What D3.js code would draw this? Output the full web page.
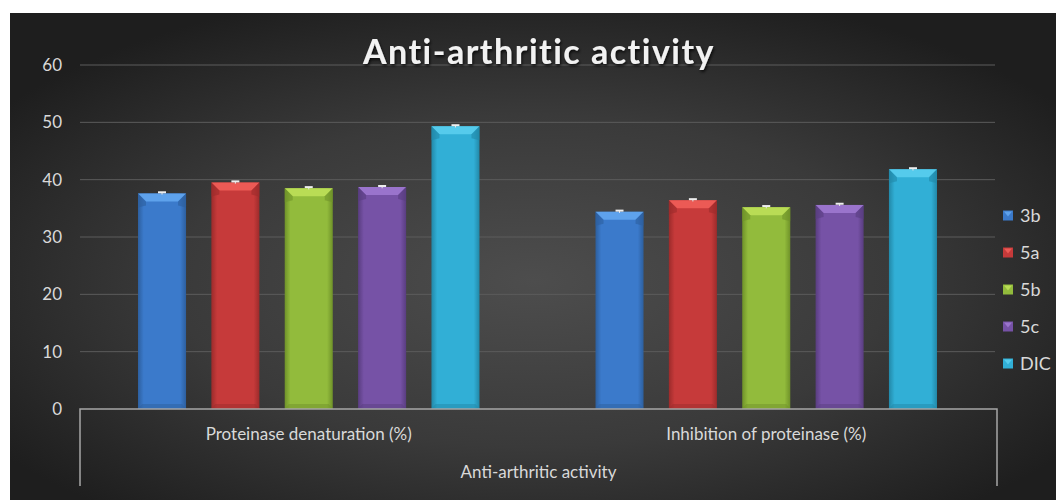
<!DOCTYPE html>
<html>
<head>
<meta charset="utf-8">
<script src="https://cdn.jsdelivr.net/npm/d3@7"></script>
<style>
  body { margin: 0; background: #fff; }
  svg { display: block; }
  text { font-family: Lato, "Open Sans", sans-serif; }
</style>
</head>
<body>
<div id="chart"></div>
<script>
const categories = ["Proteinase denaturation (%)", "Inhibition of proteinase (%)"];
const series = ["3b", "5a", "5b", "5c", "DIC"];
const values = {
  "3b":  [37.6, 34.4],
  "5a":  [39.5, 36.4],
  "5b":  [38.5, 35.2],
  "5c":  [38.7, 35.6],
  "DIC": [49.3, 41.8]
};
const errors = {
  "3b":  [0.2, 0.2],
  "5a":  [0.2, 0.2],
  "5b":  [0.2, 0.2],
  "5c":  [0.2, 0.2],
  "DIC": [0.2, 0.2]
};
const yTicks = [0, 10, 20, 30, 40, 50, 60];
const chartTitle = "Anti-arthritic activity";
const axisTitle = "Anti-arthritic activity";

// base / light / dark shade per series
const colors = {
  "3b":  ["#3b7acb", "#5ea2ec", "#2d5f9e"],
  "5a":  ["#c63a3a", "#ec5a55", "#9c2b2b"],
  "5b":  ["#92bb3c", "#b9dc55", "#6f9229"],
  "5c":  ["#7652a6", "#9a74cc", "#593d80"],
  "DIC": ["#31afd6", "#55cbec", "#2288a8"]
};

const width = 1056, height = 500;
const margin = {left: 80, right: 61, top: 65, bottom: 91};

const svg = d3.select("#chart").append("svg")
  .attr("width", width)
  .attr("height", height);

const defs = svg.append("defs");

const bg = defs.append("radialGradient")
  .attr("id", "bg")
  .attr("cx", "50%").attr("cy", "55%").attr("r", "62%");
bg.append("stop").attr("offset", "0%").attr("stop-color", "#4d4d4d");
bg.append("stop").attr("offset", "55%").attr("stop-color", "#3a3a3a");
bg.append("stop").attr("offset", "100%").attr("stop-color", "#1e1e1e");

const shadow = defs.append("filter").attr("id", "shadow")
  .attr("x", "-10%").attr("y", "-20%").attr("width", "120%").attr("height", "160%");
shadow.append("feDropShadow")
  .attr("dx", 1).attr("dy", 2).attr("stdDeviation", 1.5)
  .attr("flood-color", "#000").attr("flood-opacity", 0.8);

series.forEach(function(s){
  const g = defs.append("linearGradient")
    .attr("id", "bar-" + s)
    .attr("x1", "0").attr("x2", "1").attr("y1", "0").attr("y2", "0");
  g.append("stop").attr("offset", "0%").attr("stop-color", colors[s][2]);
  g.append("stop").attr("offset", "12%").attr("stop-color", colors[s][0]);
  g.append("stop").attr("offset", "88%").attr("stop-color", colors[s][0]);
  g.append("stop").attr("offset", "100%").attr("stop-color", colors[s][2]);
});

svg.append("rect")
  .attr("x", 10).attr("y", 13)
  .attr("width", width - 10).attr("height", height - 13)
  .attr("fill", "url(#bg)");

const y = d3.scaleLinear()
  .domain([0, 60])
  .range([409, margin.top]);

const x0 = d3.scaleBand()
  .domain(categories)
  .range([margin.left, width - margin.right]);

const groupPad = 58;
const x1 = d3.scaleBand()
  .domain(series)
  .range([groupPad, x0.bandwidth() - groupPad])
  .paddingInner(0.345);

// gridlines
svg.append("g")
  .selectAll("line")
  .data(yTicks.filter(d => d > 0))
  .enter().append("line")
  .attr("x1", margin.left)
  .attr("x2", width - margin.right)
  .attr("y1", d => y(d))
  .attr("y2", d => y(d))
  .attr("stroke", "#5c5c5c")
  .attr("stroke-width", 1);

// y tick labels
svg.append("g")
  .selectAll("text")
  .data(yTicks)
  .enter().append("text")
  .attr("x", 62)
  .attr("y", d => y(d) + 6)
  .attr("text-anchor", "end")
  .attr("fill", "#d9d9d9")
  .attr("font-size", 17)
  .text(d => d);

// bars
const groups = svg.append("g")
  .selectAll("g")
  .data(categories)
  .enter().append("g")
  .attr("transform", d => `translate(${x0(d)},0)`);

const bars = groups.selectAll("g")
  .data((c, i) => series.map(s => ({s: s, v: values[s][i], e: errors[s][i]})))
  .enter().append("g");

const bev = 8;

bars.append("rect")
  .attr("x", d => x1(d.s))
  .attr("y", d => y(d.v))
  .attr("width", x1.bandwidth())
  .attr("height", d => y(0) - y(d.v))
  .attr("fill", d => `url(#bar-${d.s})`);

// top bevel
bars.append("path")
  .attr("d", function(d){
    const xl = x1(d.s), xr = xl + x1.bandwidth(), yt = y(d.v);
    return `M${xl},${yt}L${xr},${yt}L${xr - bev},${yt + bev}L${xl + bev},${yt + bev}Z`;
  })
  .attr("fill", d => colors[d.s][1]);

bars.append("path")
  .attr("d", function(d){
    const xl = x1(d.s), yt = y(d.v);
    return `M${xl},${yt}L${xl + bev},${yt + bev}L${xl + bev},${yt + bev + 4}L${xl},${yt + 14}Z`;
  })
  .attr("fill", d => colors[d.s][2])
  .attr("opacity", 0.6);

bars.append("path")
  .attr("d", function(d){
    const xr = x1(d.s) + x1.bandwidth(), yt = y(d.v);
    return `M${xr},${yt}L${xr - bev},${yt + bev}L${xr - bev},${yt + bev + 4}L${xr},${yt + 14}Z`;
  })
  .attr("fill", d => colors[d.s][2])
  .attr("opacity", 0.6);

// bottom bevel
bars.append("path")
  .attr("d", function(d){
    const xl = x1(d.s), xr = xl + x1.bandwidth(), yb = y(0);
    return `M${xl},${yb}L${xl + 4},${yb - 5}L${xr - 4},${yb - 5}L${xr},${yb}Z`;
  })
  .attr("fill", d => colors[d.s][2])
  .attr("opacity", 0.5);

// error bars
bars.append("line")
  .attr("x1", d => x1(d.s) + x1.bandwidth() / 2)
  .attr("x2", d => x1(d.s) + x1.bandwidth() / 2)
  .attr("y1", d => y(d.v - d.e))
  .attr("y2", d => y(d.v + d.e))
  .attr("stroke", "#e6e6e6")
  .attr("stroke-width", 1);

bars.append("line")
  .attr("x1", d => x1(d.s) + x1.bandwidth() / 2 - 4)
  .attr("x2", d => x1(d.s) + x1.bandwidth() / 2 + 4)
  .attr("y1", d => y(d.v + d.e))
  .attr("y2", d => y(d.v + d.e))
  .attr("stroke", "#eeeeee")
  .attr("stroke-width", 2);

// category axis box
const axisColor = "#a6a6a6";
const xl = margin.left, xr = width - margin.right + 2;
svg.append("path")
  .attr("d", `M${xl},486L${xl},${y(0)}L${xr},${y(0)}L${xr},486`)
  .attr("fill", "none")
  .attr("stroke", axisColor)
  .attr("stroke-width", 1.5);

svg.append("g")
  .selectAll("text")
  .data(categories)
  .enter().append("text")
  .attr("x", d => x0(d) + x0.bandwidth() / 2)
  .attr("y", 440)
  .attr("text-anchor", "middle")
  .attr("fill", "#d9d9d9")
  .attr("font-size", 17)
  .text(d => d);

svg.append("text")
  .attr("x", (xl + xr) / 2)
  .attr("y", 478)
  .attr("text-anchor", "middle")
  .attr("fill", "#d9d9d9")
  .attr("font-size", 17)
  .text(axisTitle);

// title
svg.append("text")
  .attr("x", 539)
  .attr("y", 64)
  .attr("text-anchor", "middle")
  .attr("fill", "#f2f2f2")
  .attr("font-size", 34)
  .attr("font-weight", "bold")
  .attr("letter-spacing", 1.5)
  .attr("filter", "url(#shadow)")
  .text(chartTitle);

// legend
const legend = svg.append("g")
  .selectAll("g")
  .data(series)
  .enter().append("g")
  .attr("transform", (d, i) => `translate(1003,${215.5 + i * 37})`);

legend.append("rect")
  .attr("x", 0).attr("y", -5)
  .attr("width", 10).attr("height", 10)
  .attr("fill", d => colors[d][0]);

legend.append("path")
  .attr("d", "M1,-4L9,-4L5,1Z")
  .attr("fill", d => colors[d][1]);

legend.append("text")
  .attr("x", 17)
  .attr("y", 6)
  .attr("fill", "#d9d9d9")
  .attr("font-size", 18)
  .text(d => d);
</script>
</body>
</html>
